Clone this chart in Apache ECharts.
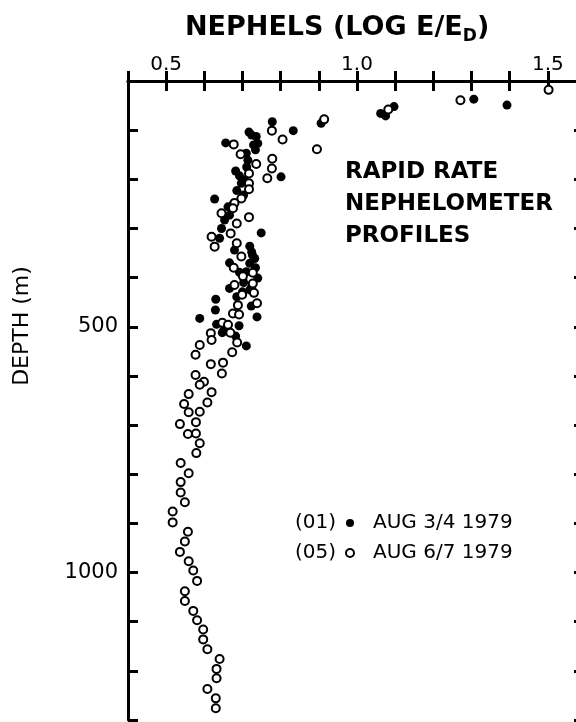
<!DOCTYPE html>
<html>
<head>
<meta charset="utf-8">
<script src="https://cdn.jsdelivr.net/npm/echarts@6/dist/echarts.min.js"></script>
<style>
  html, body { margin: 0; padding: 0; background: #fff; }
  #main { width: 576px; height: 722px; }
</style>
</head>
<body>
<div id="main"></div>
<script>
var myChart = echarts.init(document.getElementById('main'));

// tick labels shown on the axes
var xTickLabels = [0.5, 1.0, 1.5];
var yTickLabels = [500, 1000];

// (01) AUG 3/4 1979 - filled dots, [nephels, depth m]
var nephels01 = [1.306, 1.393, 1.062, 1.075, 1.097, 0.906, 0.778, 0.833, 0.717, 0.736,
    0.740, 0.734, 0.656, 0.710, 0.714, 0.801, 0.682, 0.703, 0.697, 0.685,
    0.627, 0.662, 0.666, 0.653, 0.645, 0.640, 0.749, 0.719, 0.679, 0.732,
    0.666, 0.719, 0.710, 0.740, 0.703, 0.666, 0.719, 0.685, 0.630, 0.629,
    0.723, 0.738, 0.588, 0.632, 0.691, 0.647, 0.682, 0.710, 0.703, 0.726,
    0.724, 0.729, 0.711, 0.692, 0.674, 0.724, 0.734, 0.692, 0.724, 0.700,
    0.651];
var depth01 = [37, 49, 66, 71, 52, 86, 83, 101, 104, 113,
    127, 140, 126, 147, 161, 195, 183, 201, 208, 223,
    240, 256, 273, 283, 300, 320, 309, 336, 344, 361,
    370, 371, 388, 401, 410, 422, 425, 439, 444, 466,
    458, 480, 483, 495, 498, 512, 519, 539, 232, 354,
    110, 130, 175, 193, 252, 348, 380, 389, 419, 429,
    507];

// (05) AUG 6/7 1979 - open circles
var nephels05 = [1.271, 1.502, 1.082, 0.914, 0.777, 0.805, 0.895, 0.677, 0.695, 0.736,
    0.778, 0.777, 0.765, 0.717, 0.717, 0.717, 0.697, 0.679, 0.675, 0.645,
    0.685, 0.717, 0.619, 0.627, 0.669, 0.685, 0.697, 0.677, 0.727, 0.701,
    0.679, 0.730, 0.727, 0.699, 0.688, 0.738, 0.675, 0.691, 0.647, 0.662,
    0.617, 0.668, 0.619, 0.686, 0.588, 0.577, 0.673, 0.617, 0.649, 0.646,
    0.577, 0.599, 0.588, 0.619, 0.559, 0.547, 0.608, 0.559, 0.588, 0.536,
    0.578, 0.557, 0.578, 0.588, 0.579, 0.538, 0.559, 0.538, 0.538, 0.549,
    0.517, 0.517, 0.557, 0.549, 0.536, 0.559, 0.571, 0.581, 0.549, 0.549,
    0.571, 0.581, 0.597, 0.597, 0.608, 0.640, 0.632, 0.632, 0.608, 0.630,
    0.630];
var depth05 = [39, 18, 58, 78, 101, 119, 139, 129, 149, 169,
    158, 178, 198, 188, 208, 220, 239, 248, 259, 269,
    290, 277, 317, 337, 310, 330, 357, 380, 390, 397,
    415, 431, 412, 435, 456, 452, 473, 475, 492, 496,
    513, 512, 527, 532, 537, 557, 552, 576, 573, 595,
    598, 612, 618, 633, 637, 657, 654, 674, 673, 698,
    694, 718, 717, 737, 757, 777, 798, 816, 837, 857,
    876, 898, 917, 937, 958, 977, 996, 1017, 1038, 1058,
    1078, 1097, 1116, 1136, 1156, 1176, 1196, 1215, 1237, 1256,
    1276];

function pairs(xs, ys) {
    return xs.map(function (x, i) { return [x, ys[i]]; });
}

function hasTick(list, v) {
    return list.some(function (t) { return Math.abs(t - v) < 1e-6; });
}

var font = 'DejaVu Sans';
var axisLine = { show: true, lineStyle: { color: '#000', width: 3 } };
var tick = { show: true, inside: true, length: 10, lineStyle: { color: '#000', width: 3 } };

option = {
    backgroundColor: '#fff',
    animation: false,
    title: {
        left: 180,
        top: 5,
        text: '{a|NEPHELS (LOG E/E}{s|D}{a|)}',
        textStyle: {
            rich: {
                a: { fontFamily: font, fontSize: 27, fontWeight: 'bold', color: '#000', lineHeight: 32 },
                s: { fontFamily: font, fontSize: 17, fontWeight: 'bold', color: '#000', padding: [18, 0, 0, 0] }
            }
        }
    },
    legend: {
        left: 340,
        top: 508,
        orient: 'vertical',
        itemWidth: 8,
        itemHeight: 8,
        itemGap: 10,
        textStyle: { fontFamily: font, fontSize: 20, color: '#000', lineHeight: 20, padding: [0, 0, 0, 14] },
        data: ['AUG 3/4 1979', 'AUG 6/7 1979']
    },
    grid: {
        left: 128,
        top: 81,
        width: 458,
        bottom: 2,
        containLabel: false,
        outerBoundsMode: 'none'
    },
    xAxis: [{
        type: 'value',
        position: 'top',
        min: 0.4,
        max: 1.6,
        interval: 0.1,
        axisLine: axisLine,
        axisTick: tick,
        splitLine: { show: false },
        axisLabel: {
            margin: 6,
            fontFamily: font,
            fontSize: 20,
            color: '#000',
            formatter: function (v) { return hasTick(xTickLabels, v) ? v.toFixed(1) : ''; }
        }
    }, {
        type: 'value',
        position: 'bottom',
        min: 0.4,
        max: 1.6,
        interval: 0.1,
        axisLine: axisLine,
        axisTick: tick,
        splitLine: { show: false },
        axisLabel: { show: false }
    }],
    yAxis: [{
        type: 'value',
        inverse: true,
        position: 'left',
        min: 0,
        max: 1300,
        interval: 100,
        axisLine: axisLine,
        axisTick: tick,
        splitLine: { show: false },
        axisLabel: {
            margin: 10,
            fontFamily: font,
            fontSize: 21,
            color: '#000',
            formatter: function (v) { return hasTick(yTickLabels, v) ? String(v) : ''; }
        }
    }, {
        type: 'value',
        inverse: true,
        position: 'right',
        min: 0,
        max: 1300,
        interval: 100,
        axisLine: axisLine,
        axisTick: { show: true, inside: true, length: 12, lineStyle: { color: '#000', width: 3 } },
        splitLine: { show: false },
        axisLabel: { show: false }
    }],
    graphic: [{
        type: 'text',
        x: 22,
        y: 326,
        rotation: Math.PI / 2,
        style: { text: 'DEPTH (m)', font: '22px "DejaVu Sans"', fill: '#000', align: 'center', verticalAlign: 'middle' }
    }, {
        type: 'text',
        x: 345,
        y: 156,
        style: { text: 'RAPID RATE\nNEPHELOMETER\nPROFILES', font: 'bold 23px "DejaVu Sans"', lineHeight: 32, fill: '#000' }
    }, {
        type: 'text',
        x: 336,
        y: 523,
        style: { text: '(01)', font: '20px "DejaVu Sans"', fill: '#000', align: 'right', verticalAlign: 'middle' }
    }, {
        type: 'text',
        x: 336,
        y: 553,
        style: { text: '(05)', font: '20px "DejaVu Sans"', fill: '#000', align: 'right', verticalAlign: 'middle' }
    }],
    series: [{
        name: 'AUG 3/4 1979',
        type: 'scatter',
        symbol: 'circle',
        symbolSize: 9,
        itemStyle: { color: '#000', opacity: 1 },
        data: pairs(nephels01, depth01)
    }, {
        name: 'AUG 6/7 1979',
        type: 'scatter',
        symbol: 'circle',
        symbolSize: 8,
        itemStyle: { color: '#fff', borderColor: '#000', borderWidth: 2, opacity: 1 },
        data: pairs(nephels05, depth05)
    }]
};

myChart.setOption(option);
</script>
</body>
</html>
